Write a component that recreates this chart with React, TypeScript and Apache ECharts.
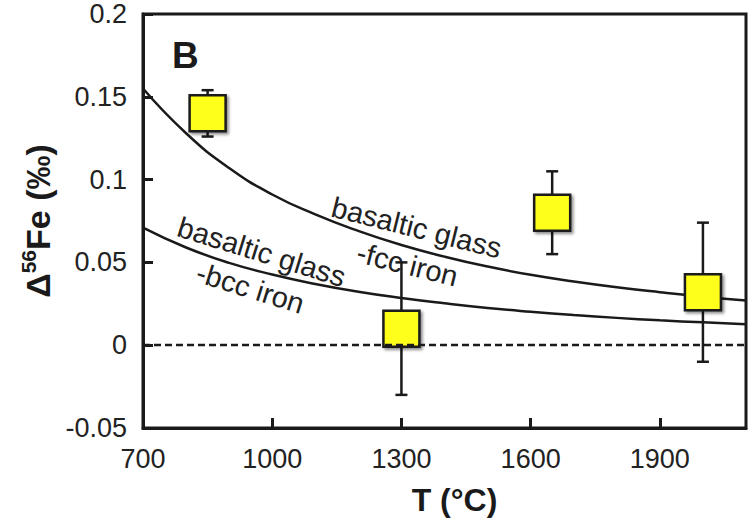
import React, { useEffect, useRef } from "react";
import * as echarts from "echarts";

// Measured samples (T in °C, Δ56Fe in ‰)
const sampleT = [850, 1300, 1650, 2000];
const sampleValue = [0.14, 0.01, 0.08, 0.032];
const sampleError = [0.014, 0.04, 0.025, 0.042];

// Model curves
const curveT = [700, 800, 900, 1000, 1100, 1200, 1300, 1400, 1500, 1600, 1700, 1800, 1900, 2000, 2100];
const fccCurve = [0.155, 0.128, 0.107, 0.091, 0.079, 0.069, 0.0605, 0.0535, 0.0475, 0.0425, 0.0385, 0.035, 0.032, 0.0293, 0.027];
const bccCurve = [0.071, 0.059, 0.0497, 0.0427, 0.037, 0.0323, 0.0285, 0.0253, 0.0225, 0.0202, 0.0182, 0.0165, 0.015, 0.0138, 0.0127];

const FONT = "'Liberation Sans', Arial, Helvetica, sans-serif";
const INK = "#1a1a1a";

export default function App() {
  const ref = useRef<HTMLDivElement>(null);

  useEffect(() => {
    if (!ref.current) return;
    const chart = echarts.init(ref.current, undefined, { renderer: "svg" });

    const errData = sampleT.map((t, i) => [t, sampleValue[i] - sampleError[i], sampleValue[i] + sampleError[i]]);
    const ptData = sampleT.map((t, i) => [t, sampleValue[i]]);

    const option: any = {
      animation: false,
      backgroundColor: "#ffffff",
      grid: {
        left: 143,
        right: 7,
        top: 14,
        bottom: 91,
        show: true,
        borderColor: INK,
        borderWidth: 3,
        backgroundColor: "transparent",
      },
      xAxis: {
        type: "value",
        min: 700,
        max: 2100,
        interval: 300,
        name: "T (°C)",
        nameLocation: "middle",
        nameGap: 56,
        nameTextStyle: {
          fontFamily: FONT,
          fontWeight: "bold",
          fontSize: 32,
          color: INK,
          padding: [0, 0, 0, 20],
        },
        axisLine: { show: true, onZero: false, lineStyle: { color: INK, width: 3 } },
        axisTick: { show: true, inside: true, length: 10, lineStyle: { color: INK, width: 3 } },
        axisLabel: {
          showMaxLabel: false,
          fontFamily: FONT,
          fontSize: 27,
          color: "#222",
          margin: 17,
          formatter: (v: number) => String(v),
        },
        splitLine: { show: false },
      },
      yAxis: {
        type: "value",
        min: -0.05,
        max: 0.2,
        interval: 0.05,
        name: "{b|Δ}{s|56}{b|Fe (‰)}",
        nameLocation: "middle",
        nameGap: 85,
        nameRotate: 90,
        nameTextStyle: {
          rich: {
            b: { fontFamily: FONT, fontWeight: "bold", fontSize: 34, color: INK, lineHeight: 40 },
            s: { fontFamily: FONT, fontWeight: "bold", fontSize: 21, color: INK, verticalAlign: "top", lineHeight: 40, padding: [0, 0, 10, 0] },
          },
        },
        axisLine: { show: true, onZero: false, lineStyle: { color: INK, width: 3 } },
        axisTick: { show: true, inside: true, length: 10, lineStyle: { color: INK, width: 3 } },
        axisLabel: {
          fontFamily: FONT,
          fontSize: 27,
          color: "#222",
          margin: 16,
          formatter: (v: number) => String(Math.round(v * 100) / 100),
        },
        splitLine: { show: false },
      },
      graphic: [
        {
          type: "text",
          left: 172,
          top: 37,
          style: { text: "B", fontFamily: FONT, fontWeight: "bold", fontSize: 37, fill: INK },
        },
        {
          type: "text",
          x: 412,
          y: 246,
          rotation: -0.245,
          style: {
            text: "basaltic glass\n-fcc iron",
            fontFamily: FONT,
            fontSize: 29,
            lineHeight: 38,
            fill: "#222",
            align: "center",
            verticalAlign: "middle",
          },
        },
        {
          type: "text",
          x: 256,
          y: 270,
          rotation: -0.3,
          style: {
            text: "basaltic glass\n-bcc iron",
            fontFamily: FONT,
            fontSize: 29,
            lineHeight: 38,
            fill: "#222",
            align: "center",
            verticalAlign: "middle",
          },
        },
      ],
      series: [
        {
          name: "fcc",
          type: "line",
          data: curveT.map((t, i) => [t, fccCurve[i]]),
          smooth: true,
          showSymbol: false,
          lineStyle: { color: INK, width: 2.5 },
          z: 2,
          markLine: {
            silent: true,
            symbol: "none",
            label: { show: false },
            lineStyle: { color: INK, width: 2.3, type: [7, 4] },
            data: [{ yAxis: 0 }],
          },
        },
        {
          name: "bcc",
          type: "line",
          data: curveT.map((t, i) => [t, bccCurve[i]]),
          smooth: true,
          showSymbol: false,
          lineStyle: { color: INK, width: 2.5 },
          z: 2,
        },
        {
          name: "err",
          type: "custom",
          data: errData,
          z: 3,
          renderItem: (params: any, api: any) => {
            const x = api.value(0);
            const lo = api.coord([x, api.value(1)]);
            const hi = api.coord([x, api.value(2)]);
            const w = 6;
            const st = { stroke: INK, lineWidth: 2.5 };
            return {
              type: "group",
              children: [
                { type: "line", shape: { x1: lo[0], y1: lo[1], x2: hi[0], y2: hi[1] }, style: st },
                { type: "line", shape: { x1: lo[0] - w, y1: lo[1], x2: lo[0] + w, y2: lo[1] }, style: st },
                { type: "line", shape: { x1: hi[0] - w, y1: hi[1], x2: hi[0] + w, y2: hi[1] }, style: st },
              ],
            };
          },
        },
        {
          name: "samples",
          type: "scatter",
          data: ptData,
          symbol: "rect",
          symbolSize: 36,
          z: 4,
          itemStyle: {
            color: "#ffff1e",
            borderColor: INK,
            borderWidth: 2.5,
            opacity: 1,
            shadowColor: "rgba(0,0,0,0.45)",
            shadowBlur: 3,
            shadowOffsetX: 2,
            shadowOffsetY: 2,
          },
        },
      ],
    };

    chart.setOption(option);
    return () => chart.dispose();
  }, []);

  return (
    <div
      ref={ref}
      style={{ position: "fixed", left: 0, top: 0, width: 753, height: 521, background: "#fff" }}
    />
  );
}
